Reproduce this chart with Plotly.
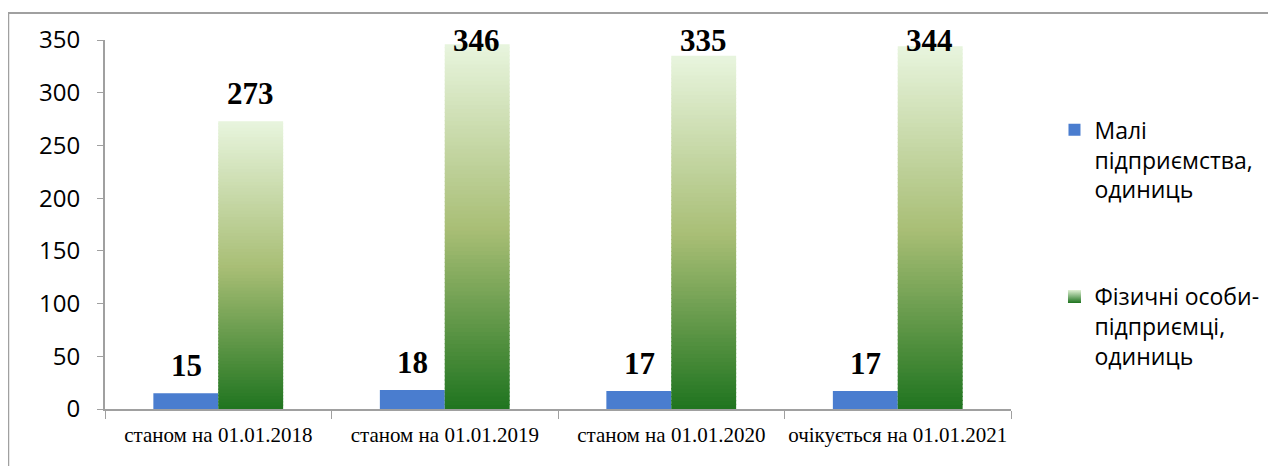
import plotly.graph_objects as go

# дані з діаграми
categories = ['станом на 01.01.2018', 'станом на 01.01.2019',
              'станом на 01.01.2020', 'очікується на 01.01.2021']
mali = [15, 18, 17, 17]
fop = [273, 346, 335, 344]
y_ticks = [0, 50, 100, 150, 200, 250, 300, 350]

name_mali = 'Малі<br>підприємства,<br>одиниць'
name_fop = 'Фізичні особи-<br>підприємці,<br>одиниць'

# градієнт для зелених стовпців (знизу вгору)
grad_stops = [(0.0, (31, 116, 31)), (0.49, (168, 190, 117)), (1.0, (232, 245, 222))]
N_SEG = 90


def grad_color(t):
    for (t0, c0), (t1, c1) in zip(grad_stops[:-1], grad_stops[1:]):
        if t <= t1:
            k = (t - t0) / (t1 - t0)
            return 'rgb(%d,%d,%d)' % tuple(round(a + (b - a) * k) for a, b in zip(c0, c1))
    return 'rgb(%d,%d,%d)' % grad_stops[-1][1]


fig = go.Figure()

fig.add_trace(go.Bar(
    x=categories, y=mali, name=name_mali,
    marker=dict(color='#4A7DCF', line=dict(width=0)),
    offsetgroup='a', legendgroup='a'
))

# елемент легенди для зеленої серії
fig.add_trace(go.Scatter(
    x=[None], y=[None], mode='markers', name=name_fop,
    marker=dict(symbol='square', size=13, color='#e2f2d6',
                gradient=dict(type='vertical', color='#1f741f')),
    legendgroup='b'
))

# зелені стовпці як стопка тонких смуг з градієнтом
# (кожна смуга трохи заходить на наступну, щоб не було швів)
for i in range(N_SEG):
    overlap = 1.2 if i < N_SEG - 1 else 0
    fig.add_trace(go.Bar(
        x=categories,
        y=[v / N_SEG + overlap for v in fop],
        base=[v * i / N_SEG for v in fop],
        marker=dict(color=grad_color((i + 0.5) / N_SEG), line=dict(width=0)),
        offsetgroup='b', legendgroup='b', showlegend=False,
        hoverinfo='skip'
    ))

# підписи значень
annotations = []
for cat, v in zip(categories, mali):
    annotations.append(dict(x=cat, y=v, xshift=-32, yshift=8, yanchor='bottom',
                            text='<b>%d</b>' % v, showarrow=False,
                            font=dict(family='Liberation Serif', size=31, color='black')))
for cat, v in zip(categories, fop):
    annotations.append(dict(x=cat, y=min(v, 323), xshift=32, yshift=8, yanchor='bottom',
                            text='<b>%d</b>' % v, showarrow=False,
                            font=dict(family='Liberation Serif', size=31, color='black')))

fig.update_layout(
    width=1268, height=458,
    margin=dict(l=97, r=263, t=32, b=57),
    paper_bgcolor='white', plot_bgcolor='white',
    barmode='group', bargap=0.427, bargroupgap=0,
    showlegend=True,
    legend=dict(x=1.048, y=0.815, xanchor='left', yanchor='top',
                font=dict(family='Open Sans', size=23, color='black'),
                tracegroupgap=74, valign='top', itemsizing='trace'),
    annotations=annotations,
    shapes=[dict(type='rect', xref='paper', yref='paper',
                 x0=-0.1068, x1=1.4, y0=-0.4, y1=1.0732,
                 line=dict(color='#a0a0a0', width=2), layer='below')],
    xaxis=dict(
        showline=True, linecolor='#a0a0a0', linewidth=2,
        ticks='outside', tickson='boundaries', ticklen=8, tickcolor='#a0a0a0',
        tickfont=dict(family='Liberation Serif', size=21, color='black'),
        tickangle=0, automargin=False,
        ticklabelstandoff=6, showgrid=False
    ),
    yaxis=dict(
        range=[0, 350], tickvals=y_ticks,
        showline=True, linecolor='#a0a0a0', linewidth=2,
        ticks='outside', ticklen=6, tickcolor='#a0a0a0',
        tickfont=dict(family='Open Sans', size=24, color='black'),
        ticklabelstandoff=12, showgrid=False, zeroline=False
    )
)

fig.write_html('out.html')
